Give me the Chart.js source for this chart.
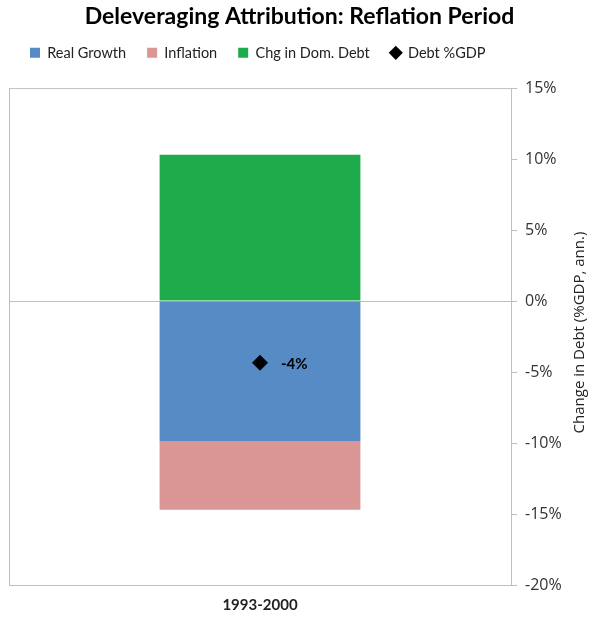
<!DOCTYPE html>
<html>
<head>
<meta charset="utf-8">
<script src="https://cdn.jsdelivr.net/npm/chart.js@4/dist/chart.umd.min.js"></script>
<style>
    html, body { margin: 0; padding: 0; background: #fff; }
    #wrap { width: 596px; height: 618px; }
</style>
</head>
<body>
<div id="wrap"><canvas id="grafico"></canvas></div>
<script>
// Datos
const periodos = ['1993-2000'];
const crecimientoReal = [-9.9];
const inflacion = [-4.8];
const deudaDomestica = [10.3];
const deudaPib = [-4.35];
const ejeY = { min: -20, max: 15, paso: 5 };
const tituloEjeY = 'Change in Debt (%GDP, ann.)';

const gris = '#bfbfbf';

// Marco alrededor del area del grafico
const marcoPlugin = {
    id: 'marco',
    beforeDatasetsDraw(chart) {
        const a = chart.chartArea;
        const ctx = chart.ctx;
        ctx.save();
        ctx.strokeStyle = gris;
        ctx.lineWidth = 1;
        ctx.strokeRect(a.left + 0.5, a.top + 0.5, a.right - a.left, a.bottom - a.top);
        ctx.restore();
    }
};

// Etiqueta del punto de Deuda %PIB y titulo del eje (leido de abajo hacia arriba)
const etiquetaPlugin = {
    id: 'etiqueta',
    afterDatasetsDraw(chart) {
        const meta = chart.getDatasetMeta(3);
        const ctx = chart.ctx;
        ctx.save();
        ctx.font = 'bold 15px Lato';
        ctx.fillStyle = '#000';
        ctx.textBaseline = 'middle';
        meta.data.forEach((p, i) => {
            ctx.fillText(Math.round(deudaPib[i]) + '%', p.x + 21, p.y + 1);
        });
        ctx.restore();
    },
    afterDraw(chart) {
        const a = chart.chartArea;
        const ctx = chart.ctx;
        ctx.save();
        ctx.translate(chart.width - 16, (a.top + a.bottom) / 2 - 4);
        ctx.rotate(-Math.PI / 2);
        ctx.font = '15px "Open Sans"';
        ctx.fillStyle = '#222';
        ctx.textAlign = 'center';
        ctx.textBaseline = 'middle';
        ctx.fillText(tituloEjeY, 0, 0);
        ctx.restore();
    }
};

// Ajuste del alto de la leyenda
const leyendaPlugin = {
    id: 'leyendaAlto',
    beforeInit(chart) {
        const fitOriginal = chart.legend.fit;
        chart.legend.fit = function () {
            fitOriginal.bind(chart.legend)();
            this.height += 18;
        };
    }
};

const ctx = document.getElementById('grafico').getContext('2d');
new Chart(ctx, {
    type: 'bar',
    data: {
        labels: periodos,
        datasets: [
            { label: 'Real Growth', data: crecimientoReal, backgroundColor: '#578bc6', pointStyle: 'rect', order: 1 },
            { label: 'Inflation', data: inflacion, backgroundColor: '#d99694', pointStyle: 'rect', order: 1 },
            { label: 'Chg in Dom. Debt', data: deudaDomestica, backgroundColor: '#1eab4b', pointStyle: 'rect', order: 1 },
            {
                type: 'line', label: 'Debt %GDP', data: deudaPib, showLine: false,
                pointStyle: 'rectRot', pointRadius: 8, pointHoverRadius: 8,
                backgroundColor: '#000', borderColor: '#000', borderWidth: 0, order: 0
            }
        ]
    },
    options: {
        responsive: true,
        maintainAspectRatio: false,
        animation: false,
        layout: { padding: { left: 9, right: 6, top: 3, bottom: -7 } },
        datasets: {
            bar: { barPercentage: 0.4, categoryPercentage: 1, stack: 'a' }
        },
        plugins: {
            title: {
                display: true,
                text: 'Deleveraging Attribution: Reflation Period',
                color: '#000',
                font: { family: 'Lato', size: 23, weight: 'bold' },
                padding: { top: 0, bottom: -6 }
            },
            legend: {
                align: 'start',
                labels: {
                    usePointStyle: true,
                    boxWidth: 10,
                    boxHeight: 10,
                    padding: 21,
                    color: '#222',
                    font: { family: 'Lato', size: 14.5 },
                    sort: (a, b) => a.datasetIndex - b.datasetIndex
                }
            },
            tooltip: { enabled: false }
        },
        scales: {
            x: {
                stacked: true,
                grid: { display: false, drawTicks: false },
                border: { display: false },
                ticks: {
                    color: '#222',
                    padding: 11,
                    font: { family: 'Lato', size: 15, weight: 'bold' }
                }
            },
            y: {
                stacked: true,
                position: 'right',
                min: ejeY.min,
                max: ejeY.max,
                border: { color: gris },
                grid: {
                    color: c => c.tick && c.tick.value === 0 ? gris : 'rgba(0,0,0,0)',
                    tickColor: gris,
                    tickLength: 6
                },
                ticks: {
                    stepSize: ejeY.paso,
                    color: '#333',
                    padding: 8,
                    font: { family: 'Open Sans', size: 16 },
                    callback: v => v + '%'
                },
                afterFit: (escala) => { escala.width = 79; }
            }
        }
    },
    plugins: [marcoPlugin, etiquetaPlugin, leyendaPlugin]
});
</script>
</body>
</html>
